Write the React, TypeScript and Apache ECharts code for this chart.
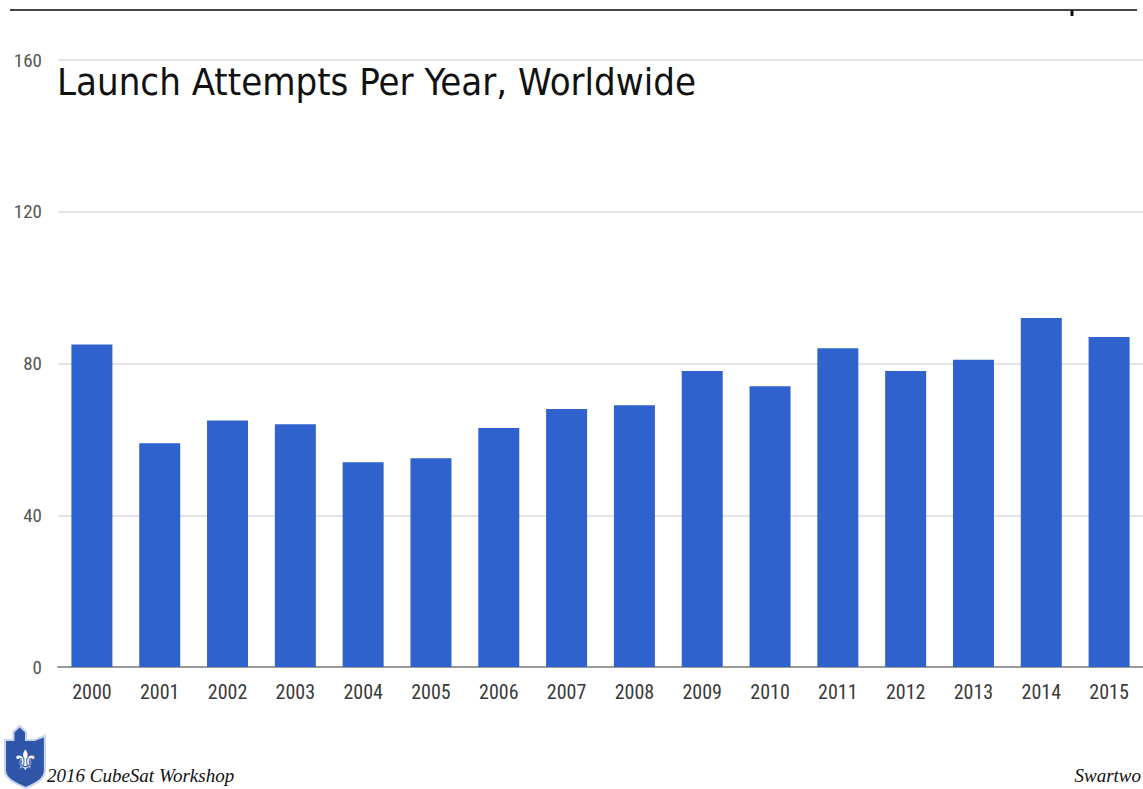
import React, { useEffect, useRef } from "react";
import * as echarts from "echarts";

const years = ["2000","2001","2002","2003","2004","2005","2006","2007","2008","2009","2010","2011","2012","2013","2014","2015"];
const launches = [85, 59, 65, 64, 54, 55, 63, 68, 69, 78, 74, 84, 78, 81, 92, 87];
const yTicks = { min: 0, max: 160, interval: 40 };
const titleText = "Launch Attempts Per Year, Worldwide";
const footerLeft = "2016 CubeSat Workshop";
const footerRight = "Swartwo";

const shieldPath =
  "M0 14 L8 14 L8 6 L14 0 L20 6 L20 14 L28 14 L38 10 L38 44 C38 54 28 58 20 62 C12 58 0 54 0 44 Z";

export default function App() {
  const ref = useRef<HTMLDivElement>(null);
  useEffect(() => {
    echarts.graphic.registerShape("shield", echarts.graphic.extendPath(shieldPath, {}) as any);
    const chart = echarts.init(ref.current!, null, { renderer: "svg" });
    const narrow = "'Liberation Sans Narrow', 'Arial Narrow', 'Roboto Condensed', 'Liberation Sans', sans-serif";
    chart.setOption({
      animation: false,
      backgroundColor: "#ffffff",
      title: {
        text: titleText,
        left: 52,
        top: 58,
        textStyle: {
          fontFamily: "'DejaVu Sans Condensed', 'DejaVu Sans', Verdana, sans-serif",
          fontSize: 38,
          fontWeight: "normal",
          color: "#111",
        },
      },
      grid: { left: 58, top: 60, width: 1088, bottom: 122, containLabel: false },
      xAxis: {
        type: "category",
        data: years,
        axisLine: { lineStyle: { color: "#9a9a9a", width: 2 } },
        axisTick: { show: false },
        axisLabel: { color: "#3a3a3a", fontSize: 20, fontFamily: narrow, margin: 15 },
      },
      yAxis: {
        type: "value",
        min: yTicks.min,
        max: yTicks.max,
        interval: yTicks.interval,
        axisLine: { show: false },
        axisTick: { show: false },
        splitLine: { lineStyle: { color: "#e4e4e4", width: 2 } },
        axisLabel: { color: "#555", fontSize: 19, fontFamily: narrow, margin: 16 },
      },
      series: [
        {
          type: "bar",
          data: launches,
          barWidth: 41,
          itemStyle: { color: "#2f62cd" },
        },
      ],
      graphic: [
        { type: "line", shape: { x1: 10, y1: 10, x2: 1137, y2: 10 }, style: { stroke: "#444", lineWidth: 2 } },
        { type: "line", shape: { x1: 1072, y1: 10, x2: 1072, y2: 16 }, style: { stroke: "#111", lineWidth: 3 } },
        {
          type: "shield",
          x: 5,
          y: 726,
          scaleX: 1.05,
          scaleY: 1,
          style: { fill: "#2f55a8", stroke: "#c9d3ea", lineWidth: 2 },
        } as any,
        {
          type: "text",
          x: 25,
          y: 760,
          style: {
            text: "⚜",
            fill: "#ffffff",
            fontSize: 28,
            fontFamily: "'DejaVu Sans', sans-serif",
            align: "center",
            verticalAlign: "middle",
          },
        },
        {
          type: "text",
          x: 47,
          y: 775,
          style: {
            text: footerLeft,
            fill: "#111",
            fontSize: 19,
            fontStyle: "italic",
            fontFamily: "'Liberation Serif', 'Times New Roman', serif",
            verticalAlign: "middle",
          },
        },
        {
          type: "text",
          x: 1141,
          y: 775,
          style: {
            text: footerRight,
            fill: "#111",
            fontSize: 19,
            fontStyle: "italic",
            fontFamily: "'Liberation Serif', 'Times New Roman', serif",
            align: "right",
            verticalAlign: "middle",
          },
        },
      ],
    });
    return () => chart.dispose();
  }, []);
  return (
    <div
      ref={ref}
      style={{ position: "fixed", left: 0, top: 0, width: 1143, height: 789, background: "#fff" }}
    />
  );
}
